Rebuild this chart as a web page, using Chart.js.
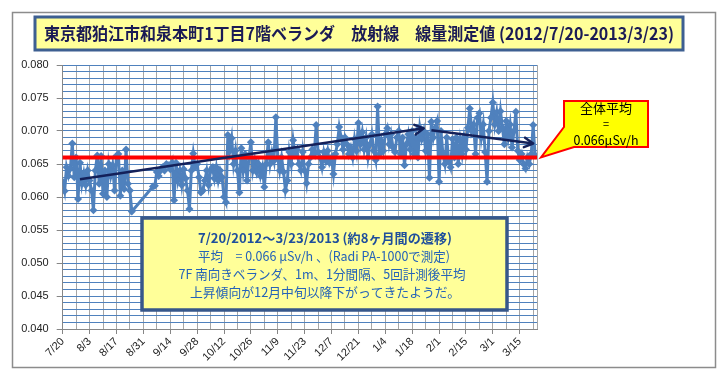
<!DOCTYPE html>
<html><head><meta charset="utf-8">
<script src="https://cdn.jsdelivr.net/npm/chart.js@4.4.1/dist/chart.umd.min.js"></script>
<style>html,body{margin:0;padding:0;background:#fff;}canvas{display:block;}</style>
</head><body>
<canvas id="c" width="726" height="378"></canvas>
<script>
// ---- data ----
const startDate = '2012-07-20';
const tickLabels = ['7/20','8/3','8/17','8/31','9/14','9/28','10/12','10/26','11/9','11/23','12/7','12/21','1/4','1/18','2/1','2/15','3/1','3/15'];
// days since 2012-07-20 on which a value was recorded
const measureDays = [
  0,1,2,3,4,5,6,7,8,9,10,11,12,13,14,15,16,17,18,19,20,21,22,23,24,25,26,27,28,29,30,31,32,33,34,35,36,
  47,48,49,50,51,52,53,54,55,56,57,58,59,60,61,62,63,64,65,66,67,68,69,70,71,72,73,74,75,76,77,78,79,80,
  81,82,83,84,85,86,87,88,89,90,91,92,93,94,95,96,97,98,99,100,101,102,103,104,105,106,107,108,109,110,
  111,112,113,114,115,116,117,118,119,120,121,122,123,124,125,126,127,128,129,130,131,132,133,134,135,
  136,137,138,139,140,141,142,143,144,145,146,147,148,149,150,151,152,153,154,155,156,157,158,159,160,
  161,162,163,164,165,166,167,168,169,170,171,172,173,174,175,176,177,178,179,180,181,182,183,184,185,
  186,187,188,189,190,191,192,193,194,195,196,197,198,199,200,201,202,203,204,205,206,207,208,209,210,
  211,212,213,214,215,216,217,218,219,220,221,222,223,224,225,226,227,228,229,230,231,232,233,234,235,
  236,237,238,239,240,241,242,243,244,245,246
];
// dose rate, μSv/h
const doseRate = [
  0.0623,0.0609,0.0645,0.0632,0.0643,0.0681,0.0630,0.0660,0.0597,0.0652,
  0.0620,0.0636,0.0618,0.0640,0.0625,0.0610,0.0580,0.0640,0.0663,0.0620,
  0.0662,0.0605,0.0640,0.0600,0.0650,0.0632,0.0648,0.0610,0.0662,0.0665,
  0.0602,0.0640,0.0612,0.0672,0.0620,0.0610,0.0578,
  0.0616,0.0617,0.0638,0.0632,0.0640,0.0645,0.0640,0.0650,0.0648,0.0642,
  0.0652,0.0595,0.0652,0.0625,0.0640,0.0618,0.0642,0.0628,0.0610,0.0582,
  0.0640,0.0666,0.0645,0.0650,0.0630,0.0607,0.0610,0.0625,0.0640,0.0618,
  0.0640,0.0645,0.0628,0.0645,0.0625,0.0640,0.0630,0.0600,0.0592,0.0694,
  0.0670,0.0689,0.0650,0.0670,0.0640,0.0607,0.0674,0.0640,0.0665,0.0625,
  0.0660,0.0683,0.0640,0.0655,0.0638,0.0650,0.0632,0.0645,0.0615,0.0650,
  0.0683,0.0650,0.0668,0.0655,0.0721,0.0660,0.0640,0.0660,0.0638,0.0610,
  0.0625,0.0668,0.0650,0.0686,0.0665,0.0672,0.0650,0.0640,0.0668,0.0640,
  0.0621,0.0650,0.0660,0.0672,0.0665,0.0709,0.0668,0.0660,0.0645,0.0668,
  0.0655,0.0670,0.0652,0.0660,0.0635,0.0665,0.0680,0.0706,0.0690,0.0672,
  0.0690,0.0680,0.0665,0.0675,0.0660,0.0688,0.0670,0.0712,0.0680,0.0698,
  0.0672,0.0690,0.0660,0.0680,0.0695,0.0670,0.0656,0.0737,0.0665,0.0685,
  0.0670,0.0695,0.0704,0.0680,0.0695,0.0675,0.0668,0.0690,0.0700,0.0665,
  0.0690,0.0648,0.0680,0.0695,0.0672,0.0700,0.0665,0.0690,0.0660,0.0705,
  0.0688,0.0700,0.0670,0.0695,0.0629,0.0714,0.0690,0.0705,0.0715,0.0623,
  0.0700,0.0665,0.0650,0.0690,0.0655,0.0645,0.0688,0.0660,0.0690,0.0650,
  0.0685,0.0665,0.0690,0.0672,0.0705,0.0734,0.0700,0.0710,0.0665,0.0720,
  0.0727,0.0690,0.0710,0.0668,0.0623,0.0700,0.0720,0.0743,0.0710,0.0728,
  0.0700,0.0730,0.0705,0.0680,0.0715,0.0690,0.0710,0.0675,0.0700,0.0729,
  0.0670,0.0656,0.0665,0.0650,0.0643,0.0660,0.0650,0.0665,0.0709,0.0663
];
const overallAverage = 0.066;
const axisDays = [0, 247];
const trendUpDays = [9, 188];
const trendUpValues = [0.0627, 0.0704];
const trendDownDays = [192, 245];
const trendDownValues = [0.0701, 0.0681];

const titleText = '東京都狛江市和泉本町1丁目7階ベランダ　放射線　線量測定値 (2012/7/20-2013/3/23)';
const noteLines = [
  '7/20/2012～3/23/2013 (約8ヶ月間の遷移)',
  '平均　= 0.066 μSv/h 、(Radi PA-1000で測定)',
  '7F 南向きベランダ、1m、1分間隔、5回計測後平均',
  '上昇傾向が12月中旬以降下がってきたようだ。'
];
const calloutLines = ['全体平均', '=', '0.066μSv/h'];

// ---- build ----
const series = measureDays.map((d, i) => ({x: d, y: doseRate[i]}));
const trendUp = trendUpDays.map((d, i) => ({x: d, y: trendUpValues[i]}));
const trendDown = trendDownDays.map((d, i) => ({x: d, y: trendDownValues[i]}));
const avgLine = axisDays.map(d => ({x: d, y: overallAverage}));

function fitText(ctx, text, cx, cy, targetW, font, color) {
  ctx.save();
  ctx.font = font;
  const w = ctx.measureText(text).width;
  ctx.translate(cx, cy);
  if (targetW) ctx.scale(targetW / w, 1);
  ctx.fillStyle = color;
  ctx.textAlign = 'center';
  ctx.textBaseline = 'middle';
  ctx.fillText(text, 0, 0);
  ctx.restore();
}

function arrowHead(ctx, x0, y0, x1, y1, color) {
  const ang = Math.atan2(y1 - y0, x1 - x0);
  const L = 10, a = 0.5;
  ctx.save();
  ctx.strokeStyle = color; ctx.lineWidth = 2.5; ctx.lineCap = 'round'; ctx.lineJoin = 'round';
  ctx.beginPath();
  ctx.moveTo(x1 - L * Math.cos(ang - a), y1 - L * Math.sin(ang - a));
  ctx.lineTo(x1, y1);
  ctx.lineTo(x1 - L * Math.cos(ang + a), y1 - L * Math.sin(ang + a));
  ctx.stroke();
  ctx.restore();
}

const overlay = {
  id: 'overlay',
  afterDatasetsDraw(chart) {
    const ctx = chart.ctx, xs = chart.scales.x, ys = chart.scales.y, ca = chart.chartArea;
    ctx.save();
    ctx.strokeStyle = '#a6a6a6'; ctx.lineWidth = 1;
    ctx.beginPath(); ctx.moveTo(Math.round(ca.right) + 0.5, ca.top); ctx.lineTo(Math.round(ca.right) + 0.5, ca.bottom); ctx.stroke();
    ctx.restore();
    arrowHead(ctx, xs.getPixelForValue(trendUpDays[0]), ys.getPixelForValue(trendUpValues[0]),
      xs.getPixelForValue(trendUpDays[1]), ys.getPixelForValue(trendUpValues[1]), '#14215a');
    arrowHead(ctx, xs.getPixelForValue(trendDownDays[0]), ys.getPixelForValue(trendDownValues[0]),
      xs.getPixelForValue(trendDownDays[1]), ys.getPixelForValue(trendDownValues[1]), '#14215a');
  },
  afterDraw(chart) {
    const ctx = chart.ctx, ys = chart.scales.y, ca = chart.chartArea;
    ctx.save();
    ctx.strokeStyle = '#8c8c8c'; ctx.lineWidth = 1.5;
    ctx.strokeRect(12.5, 12.5, 703, 355);
    ctx.fillStyle = '#ffff99';
    ctx.fillRect(35, 17, 648, 33);
    ctx.strokeStyle = '#3d5f91'; ctx.lineWidth = 3;
    ctx.strokeRect(35, 17, 648, 33);
    fitText(ctx, titleText, 359, 34, 630, 'bold 17px "Noto Sans CJK JP"', '#1b1b55');
    ctx.fillStyle = '#ffff99';
    ctx.fillRect(142, 218, 365, 92);
    ctx.strokeStyle = '#37578a'; ctx.lineWidth = 3.5;
    ctx.strokeRect(142, 218, 365, 92);
    fitText(ctx, noteLines[0], 325, 238, 254, 'bold 13px "Noto Sans CJK JP"', '#1f4f9c');
    fitText(ctx, noteLines[1], 324, 256, 252, '13px "Noto Sans CJK JP"', '#2563b8');
    fitText(ctx, noteLines[2], 322, 274, 287, '13px "Noto Sans CJK JP"', '#2563b8');
    fitText(ctx, noteLines[3], 325, 292, 270, '13px "Noto Sans CJK JP"', '#2563b8');
    const ty = ys.getPixelForValue(overallAverage);
    const tx = ca.right + 4;
    ctx.beginPath();
    ctx.moveTo(564, 101); ctx.lineTo(648, 101); ctx.lineTo(648, 147); ctx.lineTo(574, 147);
    ctx.lineTo(tx, ty); ctx.lineTo(564, 127); ctx.closePath();
    ctx.fillStyle = '#ffff00'; ctx.fill();
    ctx.strokeStyle = '#ff0000'; ctx.lineWidth = 2; ctx.lineJoin = 'miter'; ctx.stroke();
    fitText(ctx, calloutLines[0], 606, 108, 0, '13px "Noto Sans CJK JP"', '#000');
    fitText(ctx, calloutLines[1], 606, 124, 0, '11px "Noto Sans CJK JP"', '#000');
    fitText(ctx, calloutLines[2], 606, 140, 65, '13px "Noto Sans CJK JP"', '#000');
    ctx.restore();
  }
};

new Chart(document.getElementById('c'), {
  type: 'line',
  data: {
    datasets: [
      {data: trendUp, borderColor: '#14215a', borderWidth: 2.5, pointRadius: 0, tension: 0},
      {data: trendDown, borderColor: '#14215a', borderWidth: 2.5, pointRadius: 0, tension: 0},
      {data: avgLine, borderColor: '#ff0000', borderWidth: 4, pointRadius: 0, clip: 4},
      {data: series, borderColor: '#4f81bd', backgroundColor: '#4f81bd', borderWidth: 3,
       pointStyle: 'rectRot', pointRadius: 4, pointBorderWidth: 0, pointBackgroundColor: '#4f81bd', tension: 0}
    ]
  },
  options: {
    responsive: false, animation: false,
    plugins: {legend: {display: false}, tooltip: {enabled: false}},
    layout: {padding: {left: 12, right: 189, top: 65, bottom: 10}},
    scales: {
      x: {
        type: 'linear', min: axisDays[0], max: axisDays[1],
        afterFit: s => { s.height = 39; },
        ticks: {
          stepSize: 7, autoSkip: false, includeBounds: false, minRotation: 45, maxRotation: 45,
          color: '#222', font: {family: 'Liberation Sans', size: 11}, padding: 1,
          callback: v => { const d = Math.round(v); return d % 14 === 0 ? tickLabels[d / 14] : ''; }
        },
        grid: {color: '#a6a6a6', lineWidth: 1, tickLength: 5,
          tickColor: c => (c.tick && Math.round(c.tick.value) % 14 === 0) ? '#868686' : 'rgba(0,0,0,0)'},
        border: {color: '#868686', width: 1}
      },
      y: {
        min: 0.040, max: 0.080,
        afterFit: s => { s.width = 50.7; },
        ticks: {
          stepSize: 0.001, autoSkip: false, color: '#222', font: {family: 'Liberation Sans', size: 11}, padding: 8,
          callback: v => { const m = Math.round(v * 1000); return m % 5 === 0 ? (m / 1000).toFixed(3) : ''; }
        },
        grid: {color: '#4f81bd', lineWidth: 1, tickLength: 6,
          tickColor: c => (c.tick && Math.round(c.tick.value * 1000) % 5 === 0) ? '#868686' : 'rgba(0,0,0,0)'},
        border: {color: '#868686', width: 1}
      }
    }
  },
  plugins: [overlay]
});
</script>
</body></html>
